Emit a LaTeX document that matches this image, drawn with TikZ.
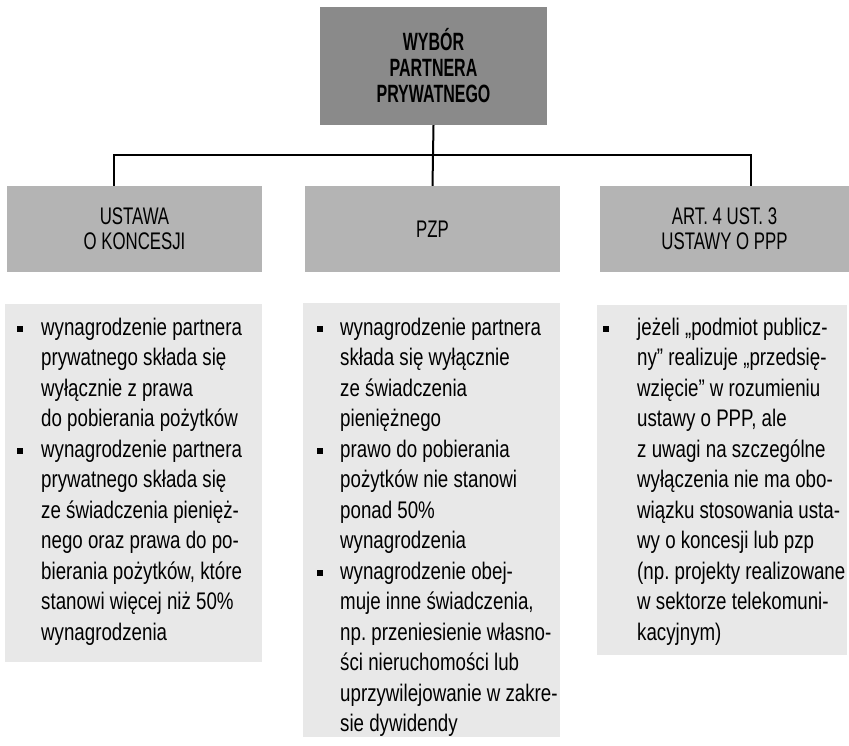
\documentclass[tikz,border=0pt]{standalone}
\usepackage{fontspec}
\setmainfont{Liberation Sans}
\newfontfamily\bodyfont{Liberation Sans}[FakeStretch=0.78]
\newfontfamily\headfont{Liberation Sans}[FakeStretch=0.70]
\newfontfamily\topfont{Liberation Sans}[FakeStretch=0.64]
\definecolor{topgray}{HTML}{8A8A8A}
\definecolor{headgray}{HTML}{B4B4B4}
\definecolor{bodygray}{HTML}{E8E8E8}
\frenchspacing
\begin{document}
\begin{tikzpicture}[x=1pt,y=-1pt,
  topbox/.style={fill=topgray, inner sep=0pt, minimum width=227pt, minimum height=118pt,
    align=center, font=\topfont\bfseries\fontsize{25}{26}\selectfont},
  headbox/.style={fill=headgray, inner sep=0pt, minimum height=86pt,
    align=center, font=\headfont\fontsize{24}{25}\selectfont},
  bodybox/.style={fill=bodygray, inner sep=0pt},
  bodytext/.style={anchor=base west, inner sep=0pt, font=\bodyfont\fontsize{24}{30}\selectfont},
  bulletsq/.style={fill=black, inner sep=0pt, minimum size=5.5pt},
  conn/.style={draw=black, line width=2pt}]
\useasboundingbox (0,0) rectangle (849,745);
% boxes
\node[topbox] (top) at (433.5,66) {WYBÓR\\PARTNERA\\PRYWATNEGO};
\node[headbox, minimum width=255pt] (h1) at (134.5,229) {USTAWA\\O KONCESJI};
\node[headbox, minimum width=255pt] (h2) at (432.5,229) {PZP};
\node[headbox, minimum width=249pt] (h3) at (724.5,229) {ART. 4 UST. 3\\USTAWY O PPP};
\node[bodybox, minimum width=257pt, minimum height=358pt] (b1) at (133.5,483) {};
\node[bodybox, minimum width=257pt, minimum height=434pt] (b2) at (431.5,520) {};
\node[bodybox, minimum width=250pt, minimum height=350pt] (b3) at (722,480) {};
% connectors
\coordinate (hl) at (114,155);
\coordinate (hr) at (751,155);
\draw[conn] (top.south) -- (h2.north);
\draw[conn] ([xshift=-1pt]hl) -- ([xshift=1pt]hr);
\draw[conn] (hl) -- (hl |- h1.north);
\draw[conn] (hr) -- (hr |- h3.north);
% left column
\foreach \t [count=\i from 0] in {{wynagrodzenie partnera},{prywatnego składa się},{wyłącznie z prawa},{do pobierania pożytków},{wynagrodzenie partnera},{prywatnego składa się},{ze świadczenia pienięż-},{nego oraz prawa do po-},{bierania pożytków, które},{stanowi więcej niż 50\%},{wynagrodzenia}}
  \node[bodytext] (L\i) at (41,{335+30.5*\i}) {\t};
\node[bulletsq] (Lb1) at (20,329) {};
\node[bulletsq] (Lb2) at (20,{329+30.5*4}) {};
% middle column
\foreach \t [count=\i from 0] in {{wynagrodzenie partnera},{składa się wyłącznie},{ze świadczenia},{pieniężnego},{prawo do pobierania},{pożytków nie stanowi},{ponad 50\%},{wynagrodzenia},{wynagrodzenie obej-},{muje inne świadczenia,},{np. przeniesienie własno-},{ści nieruchomości lub},{uprzywilejowanie w zakre-},{sie dywidendy}}
  \node[bodytext] (M\i) at (340,{335+30.5*\i}) {\t};
\node[bulletsq] (Mb1) at (320,329) {};
\node[bulletsq] (Mb2) at (320,{329+30.5*4}) {};
\node[bulletsq] (Mb3) at (320,{329+30.5*8}) {};
% right column
\foreach \t [count=\i from 0] in {{jeżeli „podmiot publicz-},{ny” realizuje „przedsię-},{wzięcie” w rozumieniu},{ustawy o PPP, ale},{z uwagi na szczególne},{wyłączenia nie ma obo-},{wiązku stosowania usta-},{wy o koncesji lub pzp},{(np. projekty realizowane},{w sektorze telekomuni-},{kacyjnym)}}
  \node[bodytext] (R\i) at (637,{335+30.5*\i}) {\t};
\node[bulletsq] (Rb1) at (606,329) {};
\end{tikzpicture}
\end{document}
